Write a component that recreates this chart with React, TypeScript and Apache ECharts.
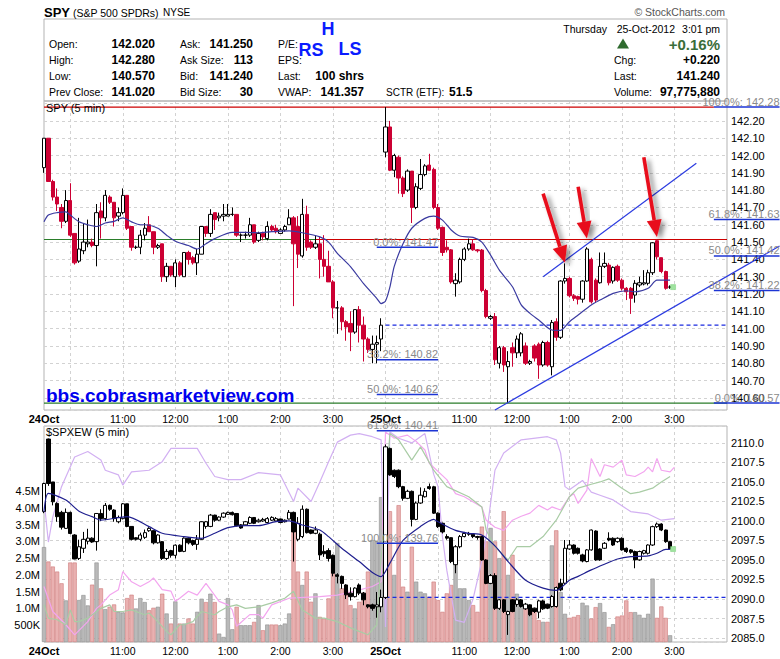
import React, { useEffect, useRef } from "react";
import * as echarts from "echarts";

const FONT = '"Liberation Sans", Arial, Helvetica, sans-serif';

// ---------- axis ticks ----------
const N_CATS = 157;
const X_TICKS: [number, string][] = [
  [0, "24Oct"], [18, "11:00"], [30, "12:00"], [42, "1:00"], [54, "2:00"], [66, "3:00"],
  [78, "25Oct"], [96, "11:00"], [108, "12:00"], [120, "1:00"], [132, "2:00"], [144, "3:00"],
];
const X_GRID: number[] = [6, 18, 30, 42, 54, 66, 78, 90, 102, 120, 132, 144];

// ---------- SPY 5-min bars [open, close, low, high] ----------
const SPY_24: number[][] = [
  [141.93, 142.10, 141.90, 142.10], [142.10, 141.85, 141.85, 142.10], [141.85, 141.76, 141.74, 141.86],
  [141.76, 141.72, 141.68, 141.81], [141.70, 141.62, 141.58, 141.72], [141.62, 141.74, 141.61, 141.80],
  [141.74, 141.54, 141.53, 141.84], [141.55, 141.38, 141.37, 141.55], [141.39, 141.46, 141.38, 141.64],
  [141.45, 141.50, 141.43, 141.61], [141.49, 141.50, 141.47, 141.63], [141.50, 141.48, 141.47, 141.52],
  [141.48, 141.67, 141.36, 141.72], [141.68, 141.64, 141.52, 141.73], [141.64, 141.77, 141.62, 141.80],
  [141.76, 141.73, 141.72, 141.77], [141.73, 141.64, 141.59, 141.73], [141.65, 141.67, 141.62, 141.70],
  [141.67, 141.77, 141.66, 141.81], [141.77, 141.58, 141.57, 141.77], [141.59, 141.47, 141.45, 141.59],
  [141.47, 141.47, 141.46, 141.48], [141.47, 141.54, 141.43, 141.57], [141.54, 141.58, 141.51, 141.61],
  [141.60, 141.56, 141.56, 141.65], [141.56, 141.47, 141.43, 141.56], [141.47, 141.48, 141.46, 141.49],
  [141.49, 141.30, 141.27, 141.49], [141.30, 141.36, 141.27, 141.38], [141.36, 141.31, 141.30, 141.36],
  [141.30, 141.38, 141.24, 141.40], [141.38, 141.31, 141.30, 141.39], [141.30, 141.44, 141.30, 141.44],
  [141.44, 141.40, 141.37, 141.45], [141.41, 141.38, 141.37, 141.42], [141.38, 141.43, 141.31, 141.46],
  [141.43, 141.59, 141.43, 141.59], [141.59, 141.55, 141.53, 141.59], [141.55, 141.66, 141.53, 141.69],
  [141.67, 141.63, 141.57, 141.67], [141.64, 141.65, 141.62, 141.67], [141.65, 141.66, 141.62, 141.72],
  [141.65, 141.66, 141.65, 141.72], [141.66, 141.66, 141.65, 141.70], [141.66, 141.54, 141.53, 141.66],
  [141.54, 141.54, 141.50, 141.55], [141.54, 141.54, 141.52, 141.56], [141.54, 141.60, 141.53, 141.64],
  [141.60, 141.50, 141.49, 141.60], [141.51, 141.55, 141.50, 141.56], [141.55, 141.53, 141.51, 141.56],
  [141.52, 141.59, 141.51, 141.62], [141.59, 141.57, 141.56, 141.60], [141.58, 141.56, 141.55, 141.60],
  [141.55, 141.57, 141.55, 141.58], [141.57, 141.59, 141.56, 141.60], [141.60, 141.64, 141.60, 141.69],
  [141.64, 141.49, 141.13, 141.65], [141.59, 141.43, 141.35, 141.65], [141.42, 141.66, 141.41, 141.75],
  [141.66, 141.47, 141.45, 141.71], [141.50, 141.47, 141.46, 141.51], [141.47, 141.49, 141.46, 141.54],
  [141.49, 141.40, 141.29, 141.53], [141.40, 141.36, 141.30, 141.54], [141.36, 141.27, 141.27, 141.45],
  [141.27, 141.12, 141.06, 141.28], [141.12, 141.12, 140.97, 141.16], [141.12, 141.04, 140.99, 141.13],
  [141.04, 141.01, 140.93, 141.05], [141.03, 140.98, 140.87, 141.10], [140.98, 141.11, 140.97, 141.11],
  [141.11, 141.02, 140.92, 141.13], [141.02, 140.94, 140.81, 141.07], [140.94, 140.88, 140.86, 140.95],
  [140.88, 140.91, 140.80, 140.96], [140.91, 140.92, 140.80, 140.96], [140.94, 141.02, 140.87, 141.06],
];
const SPY_25: number[][] = [
  [142.02, 142.165, 141.99, 142.28], [142.165, 141.915, 141.91, 142.20], [141.915, 142.00, 141.875, 142.01],
  [141.99, 141.87, 141.78, 142.00], [141.87, 141.78, 141.76, 141.88], [141.80, 141.91, 141.79, 141.92],
  [141.91, 141.70, 141.61, 141.91], [141.70, 141.82, 141.69, 141.84], [141.81, 141.89, 141.80, 141.98],
  [141.89, 141.94, 141.88, 141.95], [141.945, 141.915, 141.91, 142.01], [141.92, 141.70, 141.69, 141.93],
  [141.70, 141.58, 141.57, 141.72], [141.585, 141.44, 141.42, 141.59], [141.47, 141.455, 141.44, 141.51],
  [141.455, 141.27, 141.26, 141.46], [141.26, 141.28, 141.185, 141.32], [141.27, 141.40, 141.26, 141.41],
  [141.40, 141.46, 141.39, 141.47], [141.46, 141.49, 141.45, 141.52], [141.49, 141.455, 141.45, 141.515],
  [141.455, 141.45, 141.44, 141.46], [141.454, 141.22, 141.21, 141.46], [141.22, 141.07, 141.06, 141.23],
  [141.06, 141.07, 141.05, 141.08], [141.07, 140.82, 140.79, 141.09], [140.80, 140.89, 140.77, 140.90],
  [140.89, 140.79, 140.75, 140.90], [140.78, 140.81, 140.57, 140.87], [140.89, 140.86, 140.78, 140.92],
  [140.86, 140.94, 140.83, 140.96], [140.86, 140.97, 140.84, 140.98], [140.90, 140.80, 140.79, 140.92],
  [140.80, 140.81, 140.79, 140.82], [140.90, 140.83, 140.81, 140.91], [140.91, 140.79, 140.71, 140.92],
  [140.79, 140.92, 140.78, 140.93], [140.92, 140.79, 140.78, 140.93], [140.78, 141.035, 140.73, 141.05],
  [141.04, 140.95, 140.93, 141.06], [140.95, 141.275, 140.94, 141.28], [141.275, 141.29, 141.26, 141.377],
  [141.29, 141.19, 141.18, 141.30], [141.19, 141.175, 141.16, 141.20], [141.185, 141.17, 141.14, 141.19],
  [141.17, 141.275, 141.15, 141.28], [141.275, 141.46, 141.27, 141.47], [141.40, 141.155, 141.145, 141.41],
  [141.28, 141.165, 141.15, 141.29], [141.265, 141.36, 141.26, 141.44], [141.36, 141.377, 141.35, 141.44],
  [141.367, 141.265, 141.25, 141.38], [141.275, 141.354, 141.26, 141.36], [141.36, 141.28, 141.27, 141.37],
  [141.28, 141.233, 141.22, 141.29], [141.233, 141.213, 141.165, 141.24], [141.233, 141.175, 141.085, 141.24],
  [141.194, 141.262, 141.15, 141.28], [141.252, 141.265, 141.24, 141.30], [141.258, 141.265, 141.25, 141.338],
  [141.262, 141.323, 141.25, 141.34], [141.323, 141.496, 141.31, 141.50], [141.508, 141.415, 141.40, 141.515],
  [141.41, 141.33, 141.32, 141.41], [141.33, 141.233, 141.225, 141.335], [141.24, 141.24, 141.23, 141.25],
];

// ---------- $SPXEW 5-min bars [open, close, low, high] ----------
const SPX_24: number[][] = [
  [2101.2, 2104.8, 2101.0, 2104.9], [2110.5, 2104.8, 2104.5, 2110.56], [2105.0, 2102.46, 2102.0, 2105.0],
  [2102.25, 2100.55, 2099.9, 2102.4], [2101.1, 2099.2, 2098.9, 2101.3], [2099.05, 2101.1, 2099.0, 2101.6],
  [2101.1, 2098.4, 2098.3, 2101.2], [2098.2, 2095.13, 2095.1, 2098.3], [2095.2, 2096.7, 2095.0, 2097.6],
  [2096.5, 2097.65, 2095.9, 2098.6], [2097.4, 2097.8, 2097.0, 2099.0], [2097.8, 2097.3, 2097.2, 2097.9],
  [2097.35, 2100.96, 2096.2, 2101.0], [2100.96, 2100.3, 2100.0, 2101.5], [2100.3, 2102.0, 2100.1, 2102.3],
  [2102.0, 2101.5, 2101.3, 2102.1], [2101.4, 2100.3, 2099.9, 2101.5], [2099.9, 2100.45, 2099.7, 2100.7],
  [2100.3, 2102.2, 2100.2, 2102.3], [2102.2, 2099.3, 2099.2, 2102.2], [2099.3, 2097.65, 2097.5, 2099.3],
  [2097.85, 2097.65, 2097.5, 2097.9], [2097.65, 2098.2, 2097.4, 2098.5], [2097.9, 2098.5, 2097.7, 2098.9],
  [2098.75, 2099.05, 2098.6, 2099.2], [2098.75, 2097.2, 2097.0, 2098.8], [2097.2, 2098.2, 2097.1, 2098.3],
  [2097.35, 2095.2, 2095.0, 2097.4], [2095.2, 2096.1, 2095.0, 2096.4], [2096.2, 2095.6, 2095.3, 2096.3],
  [2095.6, 2096.9, 2095.2, 2097.0], [2096.9, 2096.1, 2096.0, 2097.0], [2096.1, 2097.8, 2096.0, 2097.9],
  [2097.8, 2097.2, 2097.0, 2097.9], [2097.5, 2097.0, 2096.8, 2097.6], [2097.0, 2097.65, 2096.3, 2098.2],
  [2097.65, 2099.9, 2097.6, 2099.95], [2099.3, 2099.9, 2099.0, 2100.0], [2099.3, 2100.75, 2099.2, 2100.9],
  [2100.75, 2100.1, 2099.9, 2100.8], [2100.1, 2100.5, 2100.0, 2100.6], [2100.5, 2101.0, 2100.4, 2101.1],
  [2100.85, 2101.1, 2100.8, 2101.2], [2101.1, 2100.8, 2100.7, 2101.2], [2100.96, 2099.4, 2099.3, 2101.0],
  [2099.5, 2099.1, 2099.0, 2099.6], [2099.5, 2099.9, 2099.4, 2100.0], [2099.7, 2100.45, 2099.6, 2100.6],
  [2100.45, 2099.7, 2099.6, 2100.5], [2099.9, 2100.1, 2099.8, 2100.3], [2100.0, 2100.2, 2099.9, 2100.4],
  [2099.8, 2100.3, 2099.7, 2100.5], [2100.1, 2100.46, 2100.0, 2100.6], [2100.0, 2100.3, 2099.9, 2100.5],
  [2100.25, 2099.8, 2099.7, 2100.3], [2099.9, 2100.1, 2099.8, 2100.2], [2100.25, 2101.1, 2100.2, 2101.4],
  [2101.1, 2098.6, 2094.8, 2101.2], [2097.65, 2099.7, 2097.4, 2100.5], [2098.0, 2101.5, 2097.8, 2102.0],
  [2101.5, 2098.5, 2098.4, 2101.6], [2098.85, 2098.42, 2098.3, 2098.9], [2098.42, 2098.85, 2098.3, 2099.3],
  [2098.3, 2095.65, 2095.0, 2098.5], [2096.1, 2095.8, 2095.4, 2096.9], [2096.2, 2095.2, 2094.8, 2096.5],
  [2095.6, 2093.3, 2092.9, 2095.7], [2093.1, 2092.9, 2092.0, 2093.3], [2092.9, 2092.0, 2091.3, 2093.0],
  [2091.8, 2090.53, 2090.0, 2091.9], [2090.75, 2090.3, 2089.8, 2091.5], [2090.3, 2091.4, 2090.2, 2091.5],
  [2091.8, 2090.75, 2090.5, 2092.0], [2090.75, 2089.9, 2089.2, 2090.9], [2089.25, 2089.0, 2088.8, 2089.3],
  [2089.25, 2088.8, 2088.5, 2089.4], [2089.0, 2089.25, 2087.6, 2090.9], [2089.0, 2090.2, 2088.3, 2091.2],
];
const SPX_25: number[][] = [
  [2090.2, 2109.5, 2090.0, 2109.8], [2109.3, 2105.9, 2105.8, 2109.4], [2106.5, 2105.7, 2105.5, 2106.6],
  [2106.5, 2104.4, 2104.2, 2106.6], [2104.4, 2102.9, 2102.6, 2104.5], [2102.9, 2103.8, 2102.8, 2104.0],
  [2103.8, 2100.2, 2099.3, 2103.9], [2100.2, 2102.3, 2100.1, 2102.5], [2102.3, 2103.3, 2102.2, 2104.3],
  [2103.1, 2103.8, 2103.0, 2104.2], [2104.4, 2104.17, 2104.0, 2104.8], [2104.38, 2101.0, 2100.9, 2104.5],
  [2101.0, 2099.27, 2099.1, 2101.1], [2099.7, 2098.6, 2098.4, 2099.8], [2098.0, 2097.8, 2097.6, 2098.3],
  [2097.86, 2094.8, 2094.6, 2097.9], [2094.4, 2096.7, 2093.3, 2096.9], [2096.7, 2098.0, 2096.5, 2098.2],
  [2098.0, 2098.4, 2097.9, 2098.6], [2098.4, 2098.3, 2098.1, 2098.6], [2098.3, 2098.0, 2097.8, 2098.4],
  [2098.0, 2097.9, 2097.6, 2098.1], [2098.0, 2095.0, 2094.9, 2098.1], [2095.0, 2092.0, 2091.9, 2095.1],
  [2092.0, 2093.0, 2091.9, 2093.2], [2093.0, 2088.8, 2088.6, 2093.3], [2088.8, 2089.9, 2088.6, 2090.0],
  [2089.9, 2088.4, 2088.2, 2090.0], [2088.0, 2088.4, 2085.4, 2088.5], [2089.9, 2088.4, 2088.3, 2090.0],
  [2089.3, 2089.9, 2089.0, 2090.1], [2089.89, 2089.04, 2088.9, 2090.0], [2088.74, 2089.34, 2088.6, 2089.5],
  [2089.25, 2087.98, 2087.8, 2089.3], [2088.83, 2088.4, 2088.2, 2088.9], [2088.32, 2089.76, 2087.55, 2089.9],
  [2089.76, 2088.74, 2088.6, 2089.9], [2089.34, 2088.83, 2088.7, 2089.4], [2089.04, 2090.32, 2088.9, 2090.5],
  [2089.04, 2091.47, 2088.9, 2091.6], [2092.02, 2091.17, 2091.0, 2092.6], [2092.02, 2096.5, 2091.8, 2097.56],
  [2096.41, 2096.92, 2096.3, 2097.56], [2096.92, 2095.86, 2095.7, 2097.0], [2096.5, 2095.86, 2095.7, 2096.6],
  [2095.65, 2094.88, 2094.7, 2095.8], [2094.8, 2096.29, 2094.7, 2096.4], [2096.29, 2098.84, 2096.2, 2098.9],
  [2098.71, 2095.01, 2094.9, 2098.8], [2096.41, 2095.01, 2094.9, 2096.5], [2096.5, 2097.14, 2096.4, 2097.3],
  [2097.78, 2097.56, 2097.4, 2098.55], [2097.78, 2096.92, 2096.8, 2097.9], [2097.35, 2097.78, 2097.2, 2097.9],
  [2097.78, 2096.29, 2096.2, 2097.9], [2096.5, 2096.08, 2095.9, 2096.6], [2096.29, 2095.99, 2095.8, 2096.4],
  [2096.08, 2095.01, 2093.94, 2096.2], [2095.01, 2096.08, 2094.9, 2096.2], [2095.86, 2096.2, 2095.7, 2096.3],
  [2095.86, 2096.92, 2095.7, 2097.0], [2096.92, 2099.27, 2096.8, 2099.4], [2099.27, 2099.61, 2099.1, 2099.8],
  [2099.61, 2098.84, 2098.7, 2099.7], [2098.84, 2097.35, 2097.2, 2098.9], [2097.35, 2096.41, 2096.3, 2097.4],
];

// ---------- SPY volume (millions of shares) ----------
const VOL_24: number[] = [
  2.83, 2.40, 2.25, 2.10, 1.75, 1.24, 2.37, 2.37, 1.25, 1.40,
  1.09, 1.71, 2.37, 1.60, 0.98, 1.05, 1.12, 0.90, 0.88, 1.31,
  1.41, 1.00, 1.31, 1.19, 0.95, 1.02, 1.05, 1.44, 0.85, 0.55,
  1.21, 0.55, 0.55, 0.70, 0.55, 0.90, 1.29, 1.19, 1.44, 1.19,
  0.25, 0.15, 1.31, 0.38, 1.05, 0.50, 0.50, 0.50, 0.60, 1.10,
  0.35, 0.52, 0.52, 0.52, 0.50, 0.55, 0.85, 3.33, 2.10, 1.70,
  2.10, 1.20, 1.45, 0.75, 0.70, 1.30, 2.35, 2.95, 1.60, 1.55,
  1.10, 1.00, 1.20, 1.47, 2.10, 3.04, 3.00, 4.32,
];
const VOL_25: number[] = [
  4.30, 3.90, 2.00, 4.08, 1.65, 1.50, 2.84, 1.80, 1.50, 1.45,
  1.35, 1.80, 1.25, 0.90, 1.45, 1.70, 2.55, 1.60, 1.60, 1.25,
  1.10, 0.90, 3.44, 3.00, 3.40, 3.00, 2.50, 3.90, 2.00, 2.60,
  1.44, 1.04, 1.09, 0.99, 0.99, 0.65, 0.60, 0.60, 2.88, 3.33,
  1.49, 0.84, 0.72, 0.75, 0.80, 1.17, 1.09, 0.70, 1.04, 1.16,
  0.89, 0.45, 0.53, 0.76, 0.79, 1.24, 0.89, 0.89, 0.81, 0.72,
  0.84, 1.89, 0.72, 1.06, 0.72, 0.20,
];

// ---------- moving averages [barIndex, value] ----------
const SPY_MA: number[][] = [
  [0, 141.617], [1, 141.656], [3, 141.67], [5, 141.675], [6, 141.656], [8, 141.617], [10, 141.60], [12, 141.59],
  [14, 141.61], [16, 141.62], [18, 141.64], [20, 141.617], [22, 141.60], [23, 141.60], [26, 141.58], [28, 141.54],
  [30, 141.505], [33, 141.48], [35, 141.46], [37, 141.49], [39, 141.52], [43, 141.556], [46, 141.556], [49, 141.554],
  [52, 141.56], [56, 141.565], [59, 141.554], [63, 141.53], [65, 141.50], [67, 141.435], [70, 141.358], [73, 141.26],
  [76, 141.175], [77, 141.145], [78, 141.16], [79, 141.24], [80, 141.36], [82, 141.49], [84, 141.58], [87, 141.637],
  [89, 141.65], [91, 141.627], [93, 141.57], [95, 141.535], [98, 141.527], [100, 141.50], [102, 141.425], [104, 141.338],
  [107, 141.242], [109, 141.137], [111, 141.088], [113, 141.05], [116, 140.992], [118, 140.99], [120, 141.04],
  [122, 141.079], [125, 141.137], [127, 141.165], [130, 141.204], [133, 141.219], [135, 141.213], [138, 141.233],
  [140, 141.28], [143, 141.28],
];
const SPX_MA: number[][] = [
  [0, 2101.18], [1, 2103.53], [5, 2102.68], [8, 2101.26], [11, 2100.55], [13, 2100.12], [17, 2100.42], [19, 2100.55],
  [24, 2099.27], [27, 2098.42], [32, 2097.99], [36, 2097.78], [39, 2098.42], [42, 2099.14], [46, 2099.40], [49, 2099.40],
  [53, 2099.91], [56, 2100.0], [59, 2099.48], [63, 2098.84], [65, 2097.99], [68, 2096.50], [72, 2094.80], [75, 2093.4],
  [77, 2092.88], [79, 2094.6], [82, 2097.5], [86, 2099.3], [88.6, 2100.2], [90, 2099.9], [93.5, 2098.8], [97, 2098.42],
  [100, 2098.20], [103, 2096.8], [106, 2094.8], [110, 2092.4], [114, 2091.4], [117, 2091.1], [120, 2092.4],
  [122, 2092.9], [125, 2093.73], [128, 2094.45], [131, 2095.13], [134, 2095.43],
  [138, 2095.52], [140, 2095.86], [142, 2096.37], [143, 2096.37],
];

// ---------- comparison overlays on the $SPXEW panel [barIndex, value] ----------
const LAVENDER: number[][] = [
  [0, 2102.7], [1, 2097.3], [2, 2100.5], [4, 2104.4], [7, 2108.2], [10, 2108.9], [13, 2107.8], [14, 2106.5],
  [17, 2105.9], [18, 2104.6], [20, 2106.3], [24, 2106.5], [27, 2107.6], [29, 2109.3], [35, 2109.3], [37, 2107.4],
  [39, 2105.7], [42, 2105.3], [45, 2105.3], [49, 2106.2], [54, 2105.9], [57, 2102.5], [58, 2104.2], [61, 2102.5],
  [63, 2105.0], [65, 2107.6], [67, 2110.1], [70, 2111.0], [72, 2111.2], [75, 2110.8], [77, 2110.4], [78, 2086.4],
  [79, 2111.4], [81, 2110.6], [84, 2110.0], [87, 2111.2], [89, 2106.0], [90, 2104.4], [91, 2098.0], [92, 2093.7],
  [94, 2087.3], [96, 2087.0], [98, 2090.0], [100, 2094.9], [101, 2098.0], [103, 2106.5], [105, 2108.7],
  [109, 2110.4], [115, 2110.8], [117, 2110.4], [118, 2108.7], [119, 2104.4], [120, 2104.0], [123, 2105.2],
  [125, 2103.7], [127, 2103.3], [130, 2102.7], [134, 2101.2], [138, 2100.9], [141, 2100.1], [144, 2100.3],
];
const PINK: number[][] = [
  [0, 2091.6], [2, 2088.4], [5, 2086.7], [7, 2085.4], [10, 2087.1], [12, 2088.8], [13, 2089.25], [15, 2090.5],
  [17, 2091.2], [18, 2093.5], [20, 2092.2], [22, 2091.6], [24, 2092.2], [25, 2092.7], [27, 2091.2], [29, 2091.0],
  [30, 2089.7], [31, 2090.1], [33, 2091.0], [35, 2090.5], [37, 2092.0], [40, 2089.7], [42, 2089.25], [43, 2088.6],
  [44, 2086.5], [47, 2088.0], [49, 2088.0], [50, 2087.55], [52, 2089.25], [56, 2090.1], [63, 2090.3], [67, 2090.5],
  [71, 2091.0], [75, 2091.6], [77, 2092.2], [78, 2111.4], [80, 2110.6], [83, 2111.0], [85, 2110.2], [87, 2109.1],
  [88, 2107.4], [92, 2105.3], [94, 2103.5], [96, 2103.1], [100, 2101.8], [101, 2100.1], [103, 2099.2], [105, 2098.8],
  [107, 2100.1], [109, 2100.6], [111, 2101.0], [113, 2102.0], [115, 2101.4], [116, 2101.8], [118, 2101.4],
  [120, 2103.1], [121, 2103.5], [122, 2102.25], [124, 2103.95], [125, 2108.0], [127, 2105.7],
  [128, 2107.2], [130, 2106.9], [132, 2107.8], [133, 2105.9], [135, 2105.7], [137, 2106.3], [138, 2106.9],
  [139, 2106.3], [140, 2108.0], [141, 2106.5], [143, 2106.3], [144, 2106.9],
];
const GREEN: number[][] = [
  [0, 2089.25], [1, 2087.55], [3, 2087.34], [5, 2086.7], [6, 2088.6], [7, 2087.1], [8, 2087.1], [10, 2087.55],
  [12, 2088.4], [13, 2088.8], [15, 2089.25], [16, 2088.4], [18, 2088.4], [20, 2088.6], [23, 2087.98], [24, 2088.2],
  [26, 2087.1], [28, 2085.85], [29, 2085.42], [31, 2086.7], [32, 2086.7], [34, 2087.1], [36, 2088.4], [39, 2087.98],
  [40, 2088.4], [42, 2089.0], [44, 2089.25], [46, 2088.8], [49, 2089.0], [52, 2089.5], [55, 2090.1], [57, 2091.0],
  [59, 2088.6], [62, 2087.55], [64, 2087.55], [67, 2087.1], [70, 2086.3], [72, 2085.85], [74, 2085.42], [76, 2086.7],
  [79, 2111.2], [81, 2110.4], [84, 2107.8], [86, 2109.5], [89, 2106.5], [92, 2104.4], [97, 2103.1], [100, 2101.8],
  [101, 2098.8], [103, 2096.7], [106, 2095.0], [108, 2096.7], [111, 2096.7], [114, 2098.0], [117, 2100.1],
  [120, 2103.1], [122, 2104.2], [125, 2104.7], [127, 2105.0],
  [129, 2105.4], [132, 2104.2], [134, 2103.5], [136, 2103.7], [139, 2104.2], [141, 2105.0], [143, 2105.7],
];

// ---------- annotation levels (values) ----------
const SPY_TOP = 142.28;
const SPY_MIDLINE = 141.515;
const SPY_LOW = 140.57;
const SPY_PREV_CLOSE = 141.02;
const SPX_PREV_CLOSE = 2090.2;
const SPY_LAST = 141.24;
const SPX_LAST = 2096.4;
const FIB_RIGHT: [string, number][] = [["100.0%", 142.28], ["61.8%", 141.63], ["50.0%", 141.42], ["38.2%", 141.22], ["0.0%", 140.57]];
const FIB_MID: [string, number][] = [["0.0%", 141.47], ["38.2%", 140.82], ["50.0%", 140.62], ["61.8%", 140.41], ["100.0%", 139.76]];
const FIB_RIGHT_SPAN = [152.6, 167.7];
const FIB_MID_SPAN = [76.0, 90.0];
const TRENDLINES: number[][][] = [
  [[113.9, 141.30], [148.7, 141.955]],
  [[102.6, 140.53], [168.1, 141.477]],
];
const ARROWS: number[][][] = [
  [[113.5, 141.78], [119.0, 141.38]],
  [[121.7, 141.82], [123.8, 141.52]],
  [[137.3, 141.99], [140.25, 141.53]],
];

function catName(i: number): string {
  const day = i < 78 ? 24 : 25;
  const k = i < 78 ? i : i - 78;
  const m = 570 + 5 * k;
  const hh = Math.floor(m / 60);
  const mm = m % 60;
  return `${day}Oct ${hh}:${String(mm).padStart(2, "0")}`;
}

const CATS = Array.from({ length: N_CATS }, (_, i) => catName(i));
const TICK_MAP = new Map<number, string>(X_TICKS);
const SPY = [...SPY_24, ...SPY_25];
const SPX = [...SPX_24, ...SPX_25];
const VOL = [...VOL_24, ...VOL_25];

const GRID_LINE = { show: true, lineStyle: { color: "#d2d2d2", type: [3, 3], width: 1 } };

function xAxis(g: number) {
  return {
    type: "category",
    gridIndex: g,
    data: CATS,
    boundaryGap: false,
    axisLine: { show: false },
    axisTick: { show: false },
    axisLabel: {
      interval: (i: number) => TICK_MAP.has(i),
      formatter: (_v: string, i: number) => {
        const t = TICK_MAP.get(i) || "";
        return t.indexOf("Oct") >= 0 ? `{b|${t}}` : t;
      },
      color: "#000",
      fontSize: 10.5,
      fontFamily: FONT,
      margin: 3,
      rich: { b: { fontWeight: "bold", fontSize: 11, fontFamily: FONT, color: "#000" } },
    },
    splitLine: { ...GRID_LINE, interval: (i: number) => X_GRID.indexOf(i) >= 0 },
  };
}

// horizontal reference line drawn as a two-point line series
function levelSeries(g: number, xa: number, xb: number, v: number, color: string, dashed = false) {
  return {
    type: "line", xAxisIndex: g, yAxisIndex: g, data: [[xa, v], [xb, v]], symbol: "none", showSymbol: false,
    silent: true, z: 2, lineStyle: { color, width: 1.2, type: dashed ? [4, 3] : "solid" },
  };
}

function buildOption() {
  const volDown = { color: "#e9b1b1", borderColor: "#cf7b7b", borderWidth: 0.6 };
  const volUp = { color: "#b9b9b9", borderColor: "#8f8f8f", borderWidth: 0.6 };
  return {
    animation: false,
    backgroundColor: "#ffffff",
    grid: [
      { left: 44, top: 101, width: 683, height: 309, show: true, borderColor: "#b3b3b3", borderWidth: 1, backgroundColor: "#fff" },
      { left: 44, top: 426, width: 683, height: 216, show: true, borderColor: "#b3b3b3", borderWidth: 1, backgroundColor: "#fff" },
    ],
    xAxis: [xAxis(0), xAxis(1)],
    yAxis: [
      {
        type: "value", gridIndex: 0, position: "right", min: 140.53, max: 142.315,
        splitNumber: 18, minInterval: 0.1, maxInterval: 0.1,
        axisLine: { show: false }, axisTick: { show: false }, splitLine: GRID_LINE,
        axisLabel: {
          color: "#000", fontSize: 11, fontFamily: FONT, margin: 4, showMinLabel: false, showMaxLabel: false,
          formatter: (v: number) => (v > 142.25 || v < 140.55 ? "" : v.toFixed(2)),
        },
      },
      {
        type: "value", gridIndex: 1, position: "right", min: 2084.49, max: 2112.17,
        splitNumber: 11, minInterval: 2.5, maxInterval: 2.5,
        axisLine: { show: false }, axisTick: { show: false }, splitLine: GRID_LINE,
        axisLabel: {
          color: "#000", fontSize: 11, fontFamily: FONT, margin: 4, showMinLabel: false, showMaxLabel: false,
          formatter: (v: number) => (v > 2110.1 || v < 2084.9 ? "" : v.toFixed(1)),
        },
      },
      {
        type: "value", gridIndex: 1, position: "left", min: 0, max: 6.44, interval: 0.5,
        axisLine: { show: false }, axisTick: { show: false }, splitLine: { show: false },
        axisLabel: {
          color: "#000", fontSize: 11, fontFamily: FONT, margin: 4, showMaxLabel: false,
          formatter: (v: number) => (v < 0.4 || v > 4.6 ? "" : v < 0.99 ? "500K" : v.toFixed(1) + "M"),
        },
      },
    ],
    series: [
      {
        type: "bar", name: "SPY volume", xAxisIndex: 1, yAxisIndex: 2, barWidth: 4.2, z: 1, silent: true,
        data: VOL.map((v, i) => ({ value: v, itemStyle: SPY[i][1] < SPY[i][0] ? volDown : volUp })),
      },
      { type: "line", name: "lavender", xAxisIndex: 1, yAxisIndex: 1, data: LAVENDER, symbol: "none", showSymbol: false, z: 2, silent: true, lineStyle: { color: "#d2b0f2", width: 1.2 } },
      { type: "line", name: "pink", xAxisIndex: 1, yAxisIndex: 1, data: PINK, symbol: "none", showSymbol: false, z: 2, silent: true, lineStyle: { color: "#f3a5ef", width: 1.2 } },
      { type: "line", name: "green", xAxisIndex: 1, yAxisIndex: 1, data: GREEN, symbol: "none", showSymbol: false, z: 2, silent: true, lineStyle: { color: "#a9cca5", width: 1.2 } },
      levelSeries(1, 78, 156, SPX_PREV_CLOSE, "#1a2ae0", true),
      {
        type: "candlestick", name: "$SPXEW", xAxisIndex: 1, yAxisIndex: 1, data: SPX, barWidth: 3.8, z: 3, silent: true,
        itemStyle: { color: "#ffffff", color0: "#000000", borderColor: "#000000", borderColor0: "#000000", borderColorDoji: "#000000", borderWidth: 1 },
      },
      { type: "line", name: "SPXEW MA", xAxisIndex: 1, yAxisIndex: 1, data: SPX_MA, symbol: "none", showSymbol: false, smooth: 0.25, z: 4, silent: true, lineStyle: { color: "#1f1f8f", width: 1.2 } },
      levelSeries(0, 0, 153, SPY_TOP, "#cc0000"),
      levelSeries(0, 0, 62, SPY_MIDLINE, "#2a7d2a"),
      levelSeries(0, 62, 156, SPY_MIDLINE, "#cc0000"),
      levelSeries(0, 0, 156, SPY_LOW, "#2a7d2a"),
      levelSeries(0, 78, 156, SPY_PREV_CLOSE, "#1a2ae0", true),
      {
        type: "candlestick", name: "SPY", xAxisIndex: 0, yAxisIndex: 0, data: SPY, barWidth: 3.8, z: 3, silent: true,
        itemStyle: { color: "#ffffff", color0: "#cc0033", borderColor: "#000000", borderColor0: "#cc0033", borderColorDoji: "#000000", borderWidth: 1 },
      },
      { type: "line", name: "SPY MA", xAxisIndex: 0, yAxisIndex: 0, data: SPY_MA, symbol: "none", showSymbol: false, smooth: 0.25, z: 4, silent: true, lineStyle: { color: "#3a3aa0", width: 1.2 } },
    ],
  };
}

function txt(x: number, y: number, text: string, o: any = {}) {
  return {
    type: "text", x, y, silent: true, z: o.z ?? 100,
    style: {
      text, fill: o.fill || "#000", fontSize: o.size || 11, fontFamily: FONT, fontWeight: o.bold ? "bold" : "normal",
      align: o.align || "left", verticalAlign: "middle",
    },
  };
}
function seg(x1: number, y1: number, x2: number, y2: number, stroke: string, w = 1, extra: any = {}) {
  return { type: "line", silent: true, z: extra.z ?? 90, shape: { x1, y1, x2, y2 }, style: { stroke, lineWidth: w, ...(extra.style || {}) } };
}

function buildGraphics(chart: any) {
  const px = (g: number, i: number, v: number): number[] => chart.convertToPixel({ gridIndex: g }, [i, v]);
  const els: any[] = [];
  const BLUE_FIB = "#1d35d4";
  const GRAY_TXT = "#8a8a8a";

  // header title
  els.push(txt(44, 12, "SPY", { bold: true, size: 13 }));
  els.push(txt(73, 12.5, "(S&P 500 SPDRs)", { size: 10.5 }));
  els.push(txt(163, 12.5, "NYSE", { size: 10 }));
  els.push(txt(725, 12, "© StockCharts.com", { size: 10.5, fill: "#555", align: "right" }));
  els.push({ type: "rect", silent: true, z: 90, shape: { x: 44, y: 19, width: 683, height: 82 }, style: { fill: "none", stroke: "#b3b3b3", lineWidth: 1 } });

  const rows = [43.8, 60.3, 76.3, 92.3];
  const c1: [string, string][] = [["Open:", "142.020"], ["High:", "142.280"], ["Low:", "140.570"], ["Prev Close:", "141.020"]];
  c1.forEach(([l, v], k) => { els.push(txt(49, rows[k], l, { size: 10.5 })); els.push(txt(155, rows[k], v, { bold: true, size: 12, align: "right" })); });
  const c2: [string, string][] = [["Ask:", "141.250"], ["Ask Size:", "113"], ["Bid:", "141.240"], ["Bid Size:", "30"]];
  c2.forEach(([l, v], k) => { els.push(txt(180, rows[k], l, { size: 10.5 })); els.push(txt(253, rows[k], v, { bold: true, size: 12, align: "right" })); });
  els.push(txt(278, rows[0], "P/E:", { size: 10.5 }));
  els.push(txt(278, rows[1], "EPS:", { size: 10.5 }));
  els.push(txt(278, rows[2], "Last:", { size: 10.5 }));
  els.push(txt(364, rows[2], "100 shrs", { bold: true, size: 12, align: "right" }));
  els.push(txt(278, rows[3], "VWAP:", { size: 10.5 }));
  els.push(txt(364, rows[3], "141.357", { bold: true, size: 12, align: "right" }));
  els.push(txt(386, rows[3], "SCTR (ETF):", { size: 10 }));
  els.push(txt(449, rows[3], "51.5", { bold: true, size: 12 }));

  els.push(txt(607, 29, "Thursday", { size: 10.5, align: "right" }));
  els.push(txt(675, 29, "25-Oct-2012", { size: 10.5, align: "right" }));
  els.push(txt(720, 29, "3:01 pm", { size: 10.5, align: "right" }));
  els.push({ type: "polygon", silent: true, z: 100, shape: { points: [[617, 48.5], [629, 48.5], [623, 38.5]] }, style: { fill: "#2f6b2f" } });
  els.push(txt(720, 44, "+0.16%", { bold: true, size: 15, fill: "#3a6e3a", align: "right" }));
  const c3: [string, string][] = [["Chg:", "+0.220"], ["Last:", "141.240"], ["Volume:", "97,775,880"]];
  c3.forEach(([l, v], k) => { els.push(txt(614, rows[k + 1], l, { size: 10.5 })); els.push(txt(720, rows[k + 1], v, { bold: true, size: 12, align: "right" })); });

  // H & S letters
  els.push(txt(328, 29, "H", { bold: true, size: 18, fill: "#0a1cff", align: "center" }));
  els.push(txt(311, 50, "RS", { bold: true, size: 18, fill: "#0a1cff", align: "center" }));
  els.push(txt(350, 49, "LS", { bold: true, size: 18, fill: "#0a1cff", align: "center" }));

  // panel titles & watermark
  els.push(txt(46, 107.5, "SPY (5 min)", { size: 11 }));
  els.push(txt(46, 432, "$SPXEW (5 min)", { size: 11 }));
  els.push(txt(46, 395, "bbs.cobrasmarketview.com", { bold: true, size: 19, fill: "#0000ee" }));

  // fib annotations
  FIB_RIGHT.forEach(([lab, v]) => {
    const a = px(0, FIB_RIGHT_SPAN[0], v), b = px(0, FIB_RIGHT_SPAN[1], v);
    els.push(txt(b[0], a[1] - 5.5, `${lab}: ${v.toFixed(2)}`, { fill: GRAY_TXT, align: "right", z: 95 }));
    els.push(seg(a[0], a[1], b[0], a[1], BLUE_FIB, 1.5));
  });
  FIB_MID.forEach(([lab, v]) => {
    const a = px(0, FIB_MID_SPAN[0], v), b = px(0, FIB_MID_SPAN[1], v);
    els.push(txt(b[0], a[1] - 5.5, `${lab}: ${v.toFixed(2)}`, { fill: GRAY_TXT, align: "right", z: 95 }));
    els.push(seg(a[0], a[1], b[0], a[1], BLUE_FIB, 1.5));
  });

  // trend channel
  TRENDLINES.forEach(([p, q]) => {
    const a = px(0, p[0], p[1]), b = px(0, q[0], q[1]);
    els.push(seg(a[0], a[1], b[0], b[1], "#2b3be0", 1.2));
  });

  // red arrows
  const shadow = { shadowColor: "rgba(0,0,0,0.45)", shadowBlur: 5, shadowOffsetX: 4, shadowOffsetY: 3 };
  ARROWS.forEach(([t0, h0]) => {
    const t = px(0, t0[0], t0[1]), h = px(0, h0[0], h0[1]);
    const dx = h[0] - t[0], dy = h[1] - t[1];
    const L = Math.hypot(dx, dy) || 1;
    const ux = dx / L, uy = dy / L;
    const hl = 17, hw = 7.5;
    const bx = h[0] - ux * hl, by = h[1] - uy * hl;
    els.push(seg(t[0], t[1], bx, by, "#e8111c", 3.6, { z: 96, style: shadow }));
    els.push({
      type: "polygon", silent: true, z: 96,
      shape: { points: [[h[0], h[1]], [bx - uy * hw, by + ux * hw], [bx + uy * hw, by - ux * hw]] },
      style: { fill: "#e8111c", ...shadow },
    });
  });

  // last price markers
  const m1 = px(0, SPY.length - 1, SPY_LAST);
  const m2 = px(1, SPX.length - 1, SPX_LAST);
  [m1, m2].forEach((m) => {
    els.push({ type: "rect", silent: true, z: 97, shape: { x: m[0] + 0.5, y: m[1] - 2.5, width: 5, height: 5 }, style: { fill: "#9fe39f", stroke: "#7bcf7b", lineWidth: 0.5 } });
  });

  return els;
}

export default function App() {
  const ref = useRef<HTMLDivElement>(null);
  useEffect(() => {
    if (!ref.current) return;
    const chart = echarts.init(ref.current, null, { renderer: "svg" });
    chart.setOption(buildOption() as any);
    try {
      chart.setOption({ graphic: buildGraphics(chart) } as any);
    } catch (e) {
      console.error(e);
    }
    return () => chart.dispose();
  }, []);
  return (
    <div
      ref={ref}
      style={{ position: "absolute", left: 0, top: 0, width: 780, height: 659, background: "#fff" }}
    />
  );
}
